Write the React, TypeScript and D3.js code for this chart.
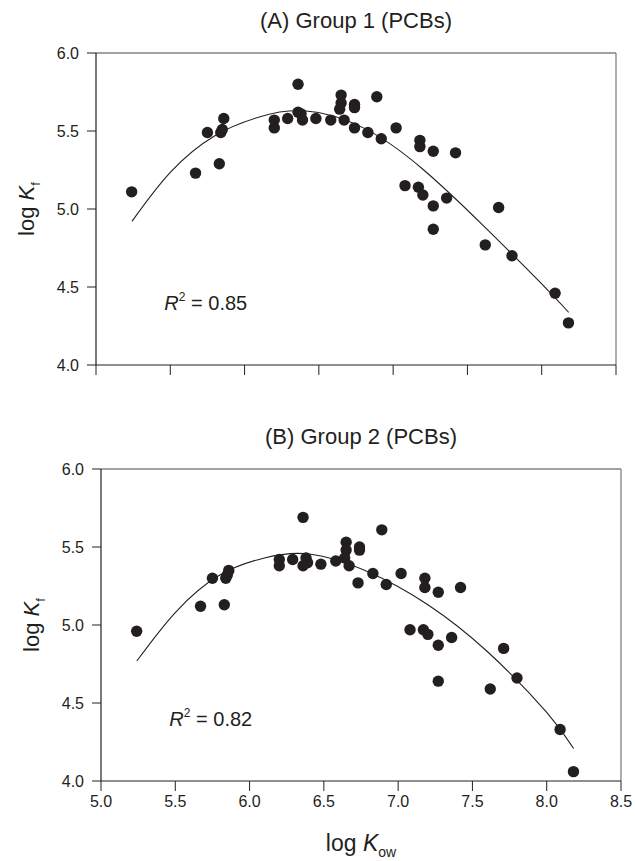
import React from "react";
import * as d3 from "d3";

// ---------- data ----------
const kowA = [5.24, 5.67, 5.75, 5.83, 5.84, 5.85, 5.86, 6.2, 6.2, 6.29, 6.36, 6.36, 6.38, 6.39, 6.48, 6.58, 6.65, 6.65, 6.64, 6.67, 6.74, 6.74, 6.74, 6.89, 6.83, 6.92, 7.02, 7.18, 7.18, 7.27, 7.42, 7.08, 7.17, 7.2, 7.27, 7.36, 7.27, 7.71, 7.62, 7.8, 8.09, 8.18];
const kfA = [5.11, 5.23, 5.49, 5.29, 5.49, 5.51, 5.58, 5.57, 5.52, 5.58, 5.8, 5.62, 5.61, 5.57, 5.58, 5.57, 5.73, 5.68, 5.64, 5.57, 5.67, 5.65, 5.52, 5.72, 5.49, 5.45, 5.52, 5.44, 5.4, 5.37, 5.36, 5.15, 5.14, 5.09, 5.02, 5.07, 4.87, 5.01, 4.77, 4.7, 4.46, 4.27];

const kowB = [5.24, 5.67, 5.75, 5.83, 5.84, 5.85, 5.86, 6.2, 6.2, 6.29, 6.36, 6.36, 6.38, 6.39, 6.48, 6.58, 6.65, 6.65, 6.64, 6.67, 6.74, 6.74, 6.73, 6.89, 6.83, 6.92, 7.02, 7.18, 7.18, 7.27, 7.42, 7.08, 7.17, 7.2, 7.27, 7.36, 7.27, 7.71, 7.62, 7.8, 8.09, 8.18];
const kfB = [4.96, 5.12, 5.3, 5.13, 5.3, 5.32, 5.35, 5.38, 5.42, 5.42, 5.69, 5.38, 5.43, 5.4, 5.39, 5.41, 5.53, 5.48, 5.43, 5.38, 5.5, 5.48, 5.27, 5.61, 5.33, 5.26, 5.33, 5.3, 5.24, 5.21, 5.24, 4.97, 4.97, 4.94, 4.87, 4.92, 4.64, 4.85, 4.59, 4.66, 4.33, 4.06];

// fitted curves
const fitXA = [5.242, 5.5, 5.8, 6.1, 6.4, 6.8, 7.2, 7.6, 8.0, 8.181];
const fitYA = [4.921, 5.235, 5.47, 5.59, 5.63, 5.52, 5.255, 4.9, 4.52, 4.338];
const fitXB = [5.241, 5.5, 5.8, 6.1, 6.4, 6.8, 7.2, 7.6, 8.0, 8.181];
const fitYB = [4.769, 5.08, 5.32, 5.43, 5.455, 5.34, 5.13, 4.83, 4.44, 4.208];

const titles = ["(A) Group 1 (PCBs)", "(B) Group 2 (PCBs)"];
const r2Values = ["0.85", "0.82"];
const xTicks = [5.0, 5.5, 6.0, 6.5, 7.0, 7.5, 8.0, 8.5];
const yTicks = [4.0, 4.5, 5.0, 5.5, 6.0];

const FONT = "'Liberation Sans', Arial, Helvetica, sans-serif";
const INK = "#231f20";

type PanelProps = {
  xs: number[];
  ys: number[];
  fx: number[];
  fy: number[];
  title: string;
  r2: string;
  left: number;
  right: number;
  top: number;
  bottom: number;
  showXLabels: boolean;
};

function Panel({ xs, ys, fx, fy, title, r2, left, right, top, bottom, showXLabels }: PanelProps) {
  const x = d3.scaleLinear().domain([5, 8.5]).range([left, right]);
  const y = d3.scaleLinear().domain([4, 6]).range([bottom, top]);
  const line = d3
    .line<[number, number]>()
    .x((d) => x(d[0]))
    .y((d) => y(d[1]))
    .curve(d3.curveNatural);
  const fitPts: [number, number][] = fx.map((v, i) => [v, fy[i]]);
  const midY = (top + bottom) / 2;
  return (
    <g>
      <text x={(left + right) / 2} y={top - 25} textAnchor="middle" fontSize={22} fontFamily={FONT} fill={INK}>
        {title}
      </text>
      {/* frame */}
      <line x1={left} x2={right} y1={top} y2={top} stroke="#444" strokeWidth={1} />
      <line x1={right} x2={right} y1={top} y2={bottom} stroke="#777" strokeWidth={1.2} />
      <line x1={left} x2={left} y1={top} y2={bottom} stroke={INK} strokeWidth={1.2} />
      <line x1={left} x2={right} y1={bottom} y2={bottom} stroke={INK} strokeWidth={1.2} />
      {/* y ticks */}
      {yTicks.map((t) => (
        <g key={"y" + t}>
          <line x1={left - 9} x2={left} y1={y(t)} y2={y(t)} stroke={INK} strokeWidth={1} />
          <text x={left - 17} y={y(t)} dy="0.36em" textAnchor="end" fontSize={16} fontFamily={FONT} fill={INK}>
            {d3.format(".1f")(t)}
          </text>
        </g>
      ))}
      {/* x ticks */}
      {xTicks.map((t) => (
        <g key={"x" + t}>
          <line x1={x(t)} x2={x(t)} y1={bottom} y2={bottom + 10} stroke={INK} strokeWidth={1} />
          {showXLabels && (
            <text x={x(t)} y={bottom + 26} textAnchor="middle" fontSize={16} fontFamily={FONT} fill={INK}>
              {d3.format(".1f")(t)}
            </text>
          )}
        </g>
      ))}
      {/* y label */}
      <text
        transform={`translate(${left - 62},${midY}) rotate(-90)`}
        textAnchor="middle"
        fontSize={22}
        fontFamily={FONT}
        fill={INK}
      >
        log <tspan fontStyle="italic">K</tspan>
        <tspan fontSize={13} dy={6}>f</tspan>
      </text>
      {/* fit curve */}
      <path d={line(fitPts) || ""} fill="none" stroke={INK} strokeWidth={1.1} />
      {/* points */}
      {xs.map((v, i) => (
        <circle key={i} cx={x(v)} cy={y(ys[i])} r={5.7} fill={INK} />
      ))}
      {/* R2 */}
      <text x={x(5.46)} y={y(4.35)} fontSize={20} fontFamily={FONT} fill={INK}>
        <tspan fontStyle="italic">R</tspan>
        <tspan fontSize={12} dy={-9}>2</tspan>
        <tspan dy={9}>{" = " + r2}</tspan>
      </text>
    </g>
  );
}

export default function App() {
  const W = 635;
  const H = 861;
  return (
    <svg
      width={W}
      height={H}
      style={{ position: "absolute", left: 0, top: 0, background: "#fff" }}
      viewBox={`0 0 ${W} ${H}`}
    >
      <rect x={0} y={0} width={W} height={H} fill="#fff" />
      <Panel xs={kowA} ys={kfA} fx={fitXA} fy={fitYA} title={titles[0]} r2={r2Values[0]} left={96} right={616} top={53} bottom={365} showXLabels={false} />
      <Panel xs={kowB} ys={kfB} fx={fitXB} fy={fitYB} title={titles[1]} r2={r2Values[1]} left={101} right={621} top={469} bottom={781} showXLabels={true} />
      <text x={361} y={851} textAnchor="middle" fontSize={23} fontFamily={FONT} fill={INK}>
        log <tspan fontStyle="italic">K</tspan>
        <tspan fontSize={14} dy={6}>ow</tspan>
      </text>
    </svg>
  );
}
